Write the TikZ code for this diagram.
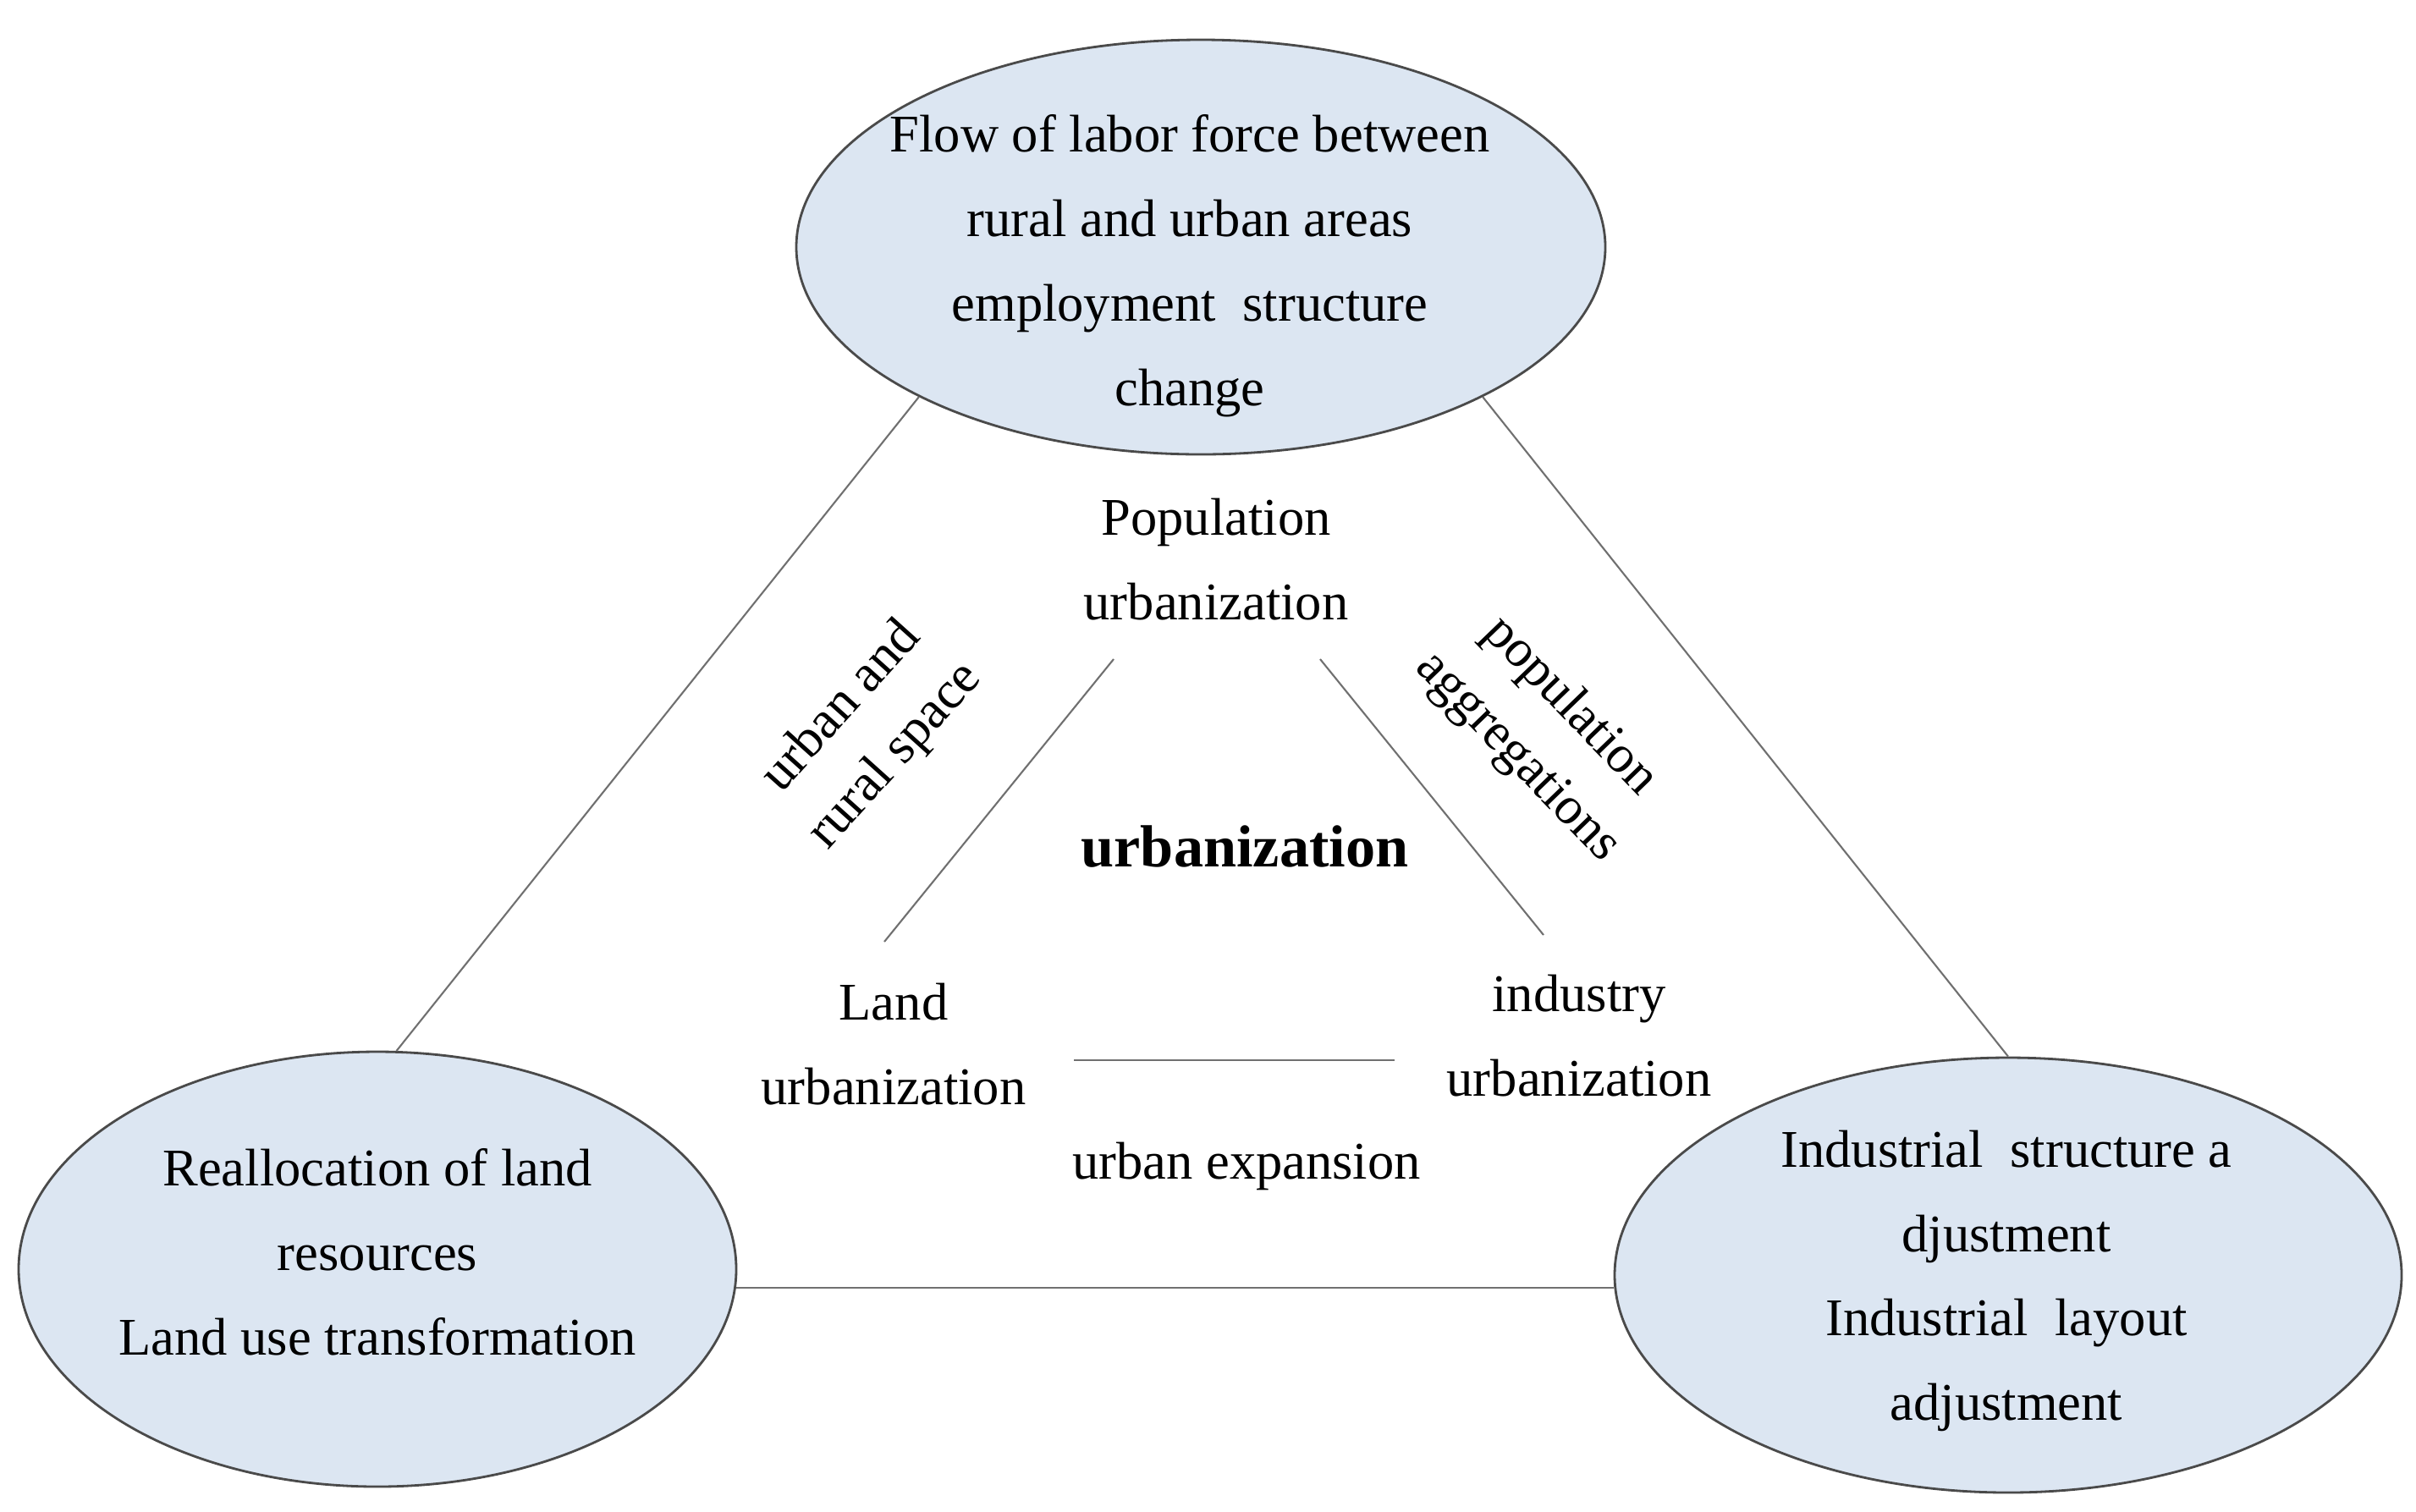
\documentclass[tikz,border=0pt]{standalone}
\usepackage{fontspec}
\setmainfont{Liberation Serif}
\usepackage{xcolor}
\usepackage{tikz}
\usetikzlibrary{shapes.geometric}
\definecolor{bubblefill}{HTML}{DCE6F2}
\definecolor{bubbleline}{HTML}{4A4A4A}
\definecolor{linkgray}{HTML}{707070}

\begin{document}
\begin{tikzpicture}[
  bubble/.style={ellipse, draw=bubbleline, line width=0.8pt, fill=bubblefill, inner sep=0pt},
  txt/.style={align=center, font=\fontsize{17.8}{28.4}\selectfont, inner sep=0pt},
  tilt/.style={align=center, font=\fontsize{17.8}{24.5}\selectfont, inner sep=0pt},
  link/.style={draw=linkgray, line width=0.6pt}
]
\useasboundingbox (0,0) rectangle (28.55,-17.86);

% the three factors
\node[bubble, minimum width=9.56cm, minimum height=4.9cm] (labor) at (14.19,-2.92) {};
\node[bubble, minimum width=8.48cm, minimum height=5.14cm] (land) at (4.46,-15.00) {};
\node[bubble, minimum width=9.30cm, minimum height=5.14cm] (ind) at (23.73,-15.07) {};

\node[txt] (laborTxt) at (14.06,-3.14) {Flow of labor force between\\rural and urban areas\\employment~ structure\\change};
\node[txt] (landTxt) at (4.46,-14.80) {Reallocation of land\\resources\\Land use transformation};
\node[txt] (indTxt) at (23.71,-15.14) {Industrial~ structure a\\djustment\\Industrial~ layout\\adjustment};

\draw[link] (labor.208) -- (land.85);
\draw[link] (labor.332) -- (ind.90);
\draw[link] (land.-3.5) -- (land.-3.5 -| ind.west);

% inner triangle
\node[txt] (popU) at (14.37,-6.61) {Population\\urbanization};
\node[txt] (landU) at (10.56,-12.34) {Land\\urbanization};
\node[txt] (indU) at (18.66,-12.24) {industry\\urbanization};
\node[txt, font=\bfseries\fontsize{20}{24}\selectfont] (core) at (14.71,-10.01) {urbanization};
\node[txt] (expand) at (14.73,-13.78) {urban expansion};
\node[tilt, rotate=48] (space) at (10.27,-8.65) {urban and\\rural space};
\node[tilt, rotate=-46] (aggr) at (18.24,-8.65) {population\\aggregations};

\coordinate (popL) at (13.16,-7.79);
\coordinate (popR) at (15.60,-7.79);
\coordinate (landT) at (10.45,-11.13);
\coordinate (indT) at (18.24,-11.05);
\coordinate (expL) at (12.69,-12.53);
\coordinate (expR) at (16.48,-12.53);
\draw[link] (popL) -- (landT);
\draw[link] (popR) -- (indT);
\draw[link] (expL) -- (expR);
\end{tikzpicture}
\end{document}
